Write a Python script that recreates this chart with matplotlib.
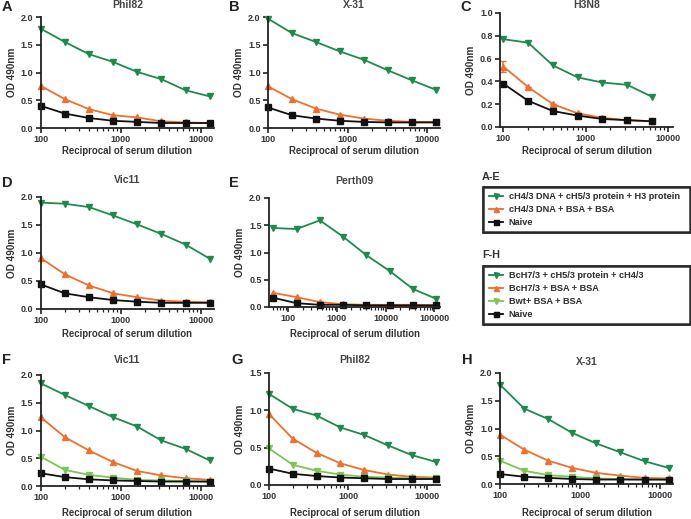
import matplotlib
matplotlib.use("Agg")
import matplotlib.pyplot as plt
from matplotlib.lines import Line2D
from matplotlib.ticker import LogLocator, NullFormatter, FixedLocator, FuncFormatter

plt.rcParams['font.family'] = ['Liberation Sans', 'DejaVu Sans']

# ---------------- data ----------------
dil_100 = [100, 200, 400, 800, 1600, 3200, 6400, 12800]
dil_c = [100, 200, 400, 800, 1600, 3200, 6400]
dil_e = [50, 150, 450, 1350, 4050, 12150, 36450, 109350]

# A  Phil82
a_green = [1.79, 1.55, 1.33, 1.19, 1.01, 0.88, 0.68, 0.57]
a_orange = [0.76, 0.52, 0.34, 0.23, 0.19, 0.12, 0.10, 0.09]
a_black = [0.40, 0.26, 0.18, 0.13, 0.11, 0.09, 0.09, 0.09]
# B  X-31
b_green = [1.97, 1.71, 1.55, 1.38, 1.23, 1.04, 0.86, 0.69]
b_orange = [0.75, 0.52, 0.35, 0.24, 0.17, 0.13, 0.11, 0.11]
b_black = [0.37, 0.23, 0.17, 0.13, 0.11, 0.10, 0.10, 0.10]
# C  H3N8
c_green = [0.77, 0.74, 0.54, 0.435, 0.39, 0.37, 0.265]
c_orange = [0.53, 0.35, 0.20, 0.12, 0.08, 0.06, 0.05]
c_orange_err = [0.045, 0, 0, 0, 0, 0, 0]
c_black = [0.38, 0.23, 0.14, 0.10, 0.07, 0.06, 0.05]
# D  Vic11
d_green = [1.90, 1.88, 1.82, 1.67, 1.51, 1.34, 1.15, 0.90]
d_orange = [0.91, 0.62, 0.42, 0.28, 0.21, 0.15, 0.13, 0.12]
d_black = [0.44, 0.28, 0.21, 0.16, 0.13, 0.11, 0.11, 0.11]
# E  Perth09
e_green = [1.45, 1.43, 1.59, 1.29, 0.95, 0.66, 0.33, 0.15]
e_orange = [0.26, 0.18, 0.09, 0.05, 0.04, 0.04, 0.04, 0.03]
e_black = [0.17, 0.07, 0.04, 0.04, 0.03, 0.03, 0.03, 0.03]
# F  Vic11
f_green = [1.85, 1.64, 1.44, 1.24, 1.07, 0.82, 0.67, 0.46]
f_orange = [1.24, 0.88, 0.64, 0.43, 0.27, 0.19, 0.14, 0.11]
f_lgreen = [0.53, 0.29, 0.20, 0.15, 0.11, 0.10, 0.09, 0.08]
f_black = [0.23, 0.16, 0.12, 0.10, 0.09, 0.08, 0.08, 0.08]
# G  Phil82
g_green = [1.22, 1.02, 0.93, 0.77, 0.67, 0.53, 0.40, 0.31]
g_orange = [0.95, 0.62, 0.43, 0.29, 0.20, 0.14, 0.11, 0.10]
g_lgreen = [0.49, 0.27, 0.19, 0.14, 0.11, 0.10, 0.09, 0.09]
g_black = [0.22, 0.15, 0.12, 0.10, 0.09, 0.08, 0.08, 0.08]
# H  X-31
h_green = [1.79, 1.36, 1.17, 0.92, 0.73, 0.57, 0.41, 0.29]
h_orange = [0.89, 0.62, 0.42, 0.29, 0.20, 0.15, 0.11, 0.10]
h_lgreen = [0.42, 0.24, 0.16, 0.13, 0.10, 0.09, 0.08, 0.08]
h_black = [0.18, 0.13, 0.11, 0.09, 0.08, 0.08, 0.08, 0.08]

legend_ae = ['cH4/3 DNA + cH5/3 protein + H3 protein', 'cH4/3 DNA + BSA + BSA', 'Naive']
legend_fh = ['BcH7/3 + cH5/3 protein + cH4/3', 'BcH7/3 + BSA + BSA', 'Bwt+ BSA + BSA', 'Naive']

GREEN = '#1f8a4e'
ORANGE = '#ef6f2e'
LGREEN = '#7cc653'
BLACK = '#111111'

W, H = 691, 519
fig = plt.figure(figsize=(W / 100, H / 100), dpi=100)

def add_axes(left, right, top, bottom):
    ax = fig.add_axes([left / W, 1 - bottom / H, (right - left) / W, (bottom - top) / H])
    ax._px = (left, right, top, bottom)
    return ax

def style(ax, title, title_y, xlabel_y, letter, letter_x, letter_y, xlim, ylim, yticks, xticks):
    left, right, top, bottom = ax._px
    hpx = bottom - top
    ax.set_xscale('log')
    ax.set_xlim(*xlim)
    ax.set_ylim(*ylim)
    ax.spines['top'].set_visible(False)
    ax.spines['right'].set_visible(False)
    for s in ('left', 'bottom'):
        ax.spines[s].set_linewidth(1.3)
        ax.spines[s].set_color('#222222')
    ax.xaxis.set_major_locator(FixedLocator(xticks))
    ax.xaxis.set_major_formatter(FuncFormatter(lambda v, p: '%d' % round(v)))
    ax.xaxis.set_minor_locator(LogLocator(base=10, subs=range(2, 10)))
    ax.xaxis.set_minor_formatter(NullFormatter())
    ax.set_yticks(yticks)
    ax.yaxis.set_major_formatter(FuncFormatter(lambda v, p: '%.1f' % v))
    ax.tick_params(axis='both', which='major', direction='out', length=3.5, width=1.2,
                   labelsize=6.5, pad=1.8, color='#222222')
    ax.tick_params(axis='x', which='minor', direction='out', length=2.2, width=0.9, color='#222222')
    for lab in ax.get_xticklabels() + ax.get_yticklabels():
        lab.set_fontweight('bold')
        lab.set_color('#333333')
    ax.set_ylabel('OD 490nm', fontsize=7.2, fontweight='bold', color='#333333', labelpad=3)
    ax.set_xlabel('Reciprocal of serum dilution', fontsize=6.9, fontweight='bold',
                  color='#333333')
    ax.xaxis.label.set_va('center')
    ax.xaxis.set_label_coords(0.5, -(xlabel_y - bottom) / hpx)
    ax.text(0.5, 1 + (top - title_y) / hpx, title, transform=ax.transAxes,
            fontsize=7.5, fontweight='bold', color='#444444', ha='center', va='center')
    fig.text(letter_x / W, 1 - letter_y / H, letter, fontsize=10.5, fontweight='bold',
             ha='left', va='center', color='#222222')

def series(ax, x, y, color, marker, yerr=None):
    ax.errorbar(x, y, yerr=yerr, color=color, marker=marker, markersize=3.8, linewidth=1.3,
                capsize=2.5, elinewidth=1.1, clip_on=False)

# Top row
axA = add_axes(40.7, 214, 17, 128)
series(axA, dil_100, a_green, GREEN, 'v')
series(axA, dil_100, a_orange, ORANGE, '^')
series(axA, dil_100, a_black, BLACK, 's')
style(axA, 'Phil82', 5.5, 151, 'A', 2, 7, (100, 14500), (0, 2.0), [0, 0.5, 1.0, 1.5, 2.0], [100, 1000, 10000])

axB = add_axes(268, 440, 17, 128)
series(axB, dil_100, b_green, GREEN, 'v')
series(axB, dil_100, b_orange, ORANGE, '^')
series(axB, dil_100, b_black, BLACK, 's')
style(axB, 'X-31', 5.5, 151, 'B', 229, 7, (100, 14500), (0, 2.0), [0, 0.5, 1.0, 1.5, 2.0], [100, 1000, 10000])

axC = add_axes(500, 673, 13, 127)
series(axC, dil_c, c_green, GREEN, 'v')
series(axC, dil_c, c_orange, ORANGE, '^', yerr=c_orange_err)
series(axC, dil_c, c_black, BLACK, 's')
style(axC, 'H3N8', 5.5, 151, 'C', 460, 7, (91, 11500), (0, 1.0), [0, 0.2, 0.4, 0.6, 0.8, 1.0], [100, 1000, 10000])

# Middle row
axD = add_axes(40.7, 214, 197, 309)
series(axD, dil_100, d_green, GREEN, 'v')
series(axD, dil_100, d_orange, ORANGE, '^')
series(axD, dil_100, d_black, BLACK, 's')
style(axD, 'Vic11', 180, 334, 'D', 2, 183, (100, 14500), (0, 2.0), [0, 0.5, 1.0, 1.5, 2.0], [100, 1000, 10000])

axE = add_axes(269, 440, 198, 307)
series(axE, dil_e, e_green, GREEN, 'v')
series(axE, dil_e, e_orange, ORANGE, '^')
series(axE, dil_e, e_black, BLACK, 's')
style(axE, 'Perth09', 181, 334, 'E', 229, 183, (41, 130000), (0, 2.0), [0, 0.5, 1.0, 1.5, 2.0],
      [100, 1000, 10000, 100000])

# Bottom row
axF = add_axes(40.7, 214, 375, 486)
series(axF, dil_100, f_green, GREEN, 'v')
series(axF, dil_100, f_orange, ORANGE, '^')
series(axF, dil_100, f_lgreen, LGREEN, 'v')
series(axF, dil_100, f_black, BLACK, 's')
style(axF, 'Vic11', 360, 513, 'F', 2, 360, (100, 14500), (0, 2.0), [0, 0.5, 1.0, 1.5, 2.0], [100, 1000, 10000])

axG = add_axes(269, 440, 373, 485)
series(axG, dil_100, g_green, GREEN, 'v')
series(axG, dil_100, g_orange, ORANGE, '^')
series(axG, dil_100, g_lgreen, LGREEN, 'v')
series(axG, dil_100, g_black, BLACK, 's')
style(axG, 'Phil82', 360, 513, 'G', 231, 360, (100, 14500), (0, 1.5), [0, 0.5, 1.0, 1.5], [100, 1000, 10000])

axH = add_axes(500, 673, 373, 484)
series(axH, dil_100, h_green, GREEN, 'v')
series(axH, dil_100, h_orange, ORANGE, '^')
series(axH, dil_100, h_lgreen, LGREEN, 'v')
series(axH, dil_100, h_black, BLACK, 's')
style(axH, 'X-31', 362, 513, 'H', 462, 360, (100, 14500), (0, 2.0), [0, 0.5, 1.0, 1.5, 2.0], [100, 1000, 10000])

# Legends
def handle(color, marker):
    return Line2D([], [], color=color, marker=marker, markersize=3.6, linewidth=1.3)

h_ae = [handle(GREEN, 'v'), handle(ORANGE, '^'), handle(BLACK, 's')]
h_fh = [handle(GREEN, 'v'), handle(ORANGE, '^'), handle(LGREEN, 'v'), handle(BLACK, 's')]

def make_legend(handles, labels, top, bottom, header, header_y):
    x0 = 483 / W
    w = (690 - 483) / W
    y0 = 1 - bottom / H
    h = (bottom - top) / H
    leg = fig.legend(handles, labels, loc='center left', bbox_to_anchor=(x0, y0, w, h),
                     mode='expand', borderaxespad=0, frameon=True, fancybox=False,
                     handlelength=1.6, handletextpad=0.6,
                     labelspacing=0.42, borderpad=0.6, prop={'weight': 'bold', 'size': 6.6})
    fr = leg.get_frame()
    fr.set_edgecolor('#111111')
    fr.set_linewidth(1.8)
    for t in leg.get_texts():
        t.set_color('#333333')
    fig.add_artist(leg)
    fig.text(482 / W, 1 - header_y / H, header, fontsize=7.8, fontweight='bold',
             color='#333333', ha='left', va='center')

make_legend(h_ae, legend_ae, 186, 233, 'A-E', 177)
make_legend(h_fh, legend_fh, 263, 327, 'F-H', 255)

fig.savefig('out.png', dpi=100)
